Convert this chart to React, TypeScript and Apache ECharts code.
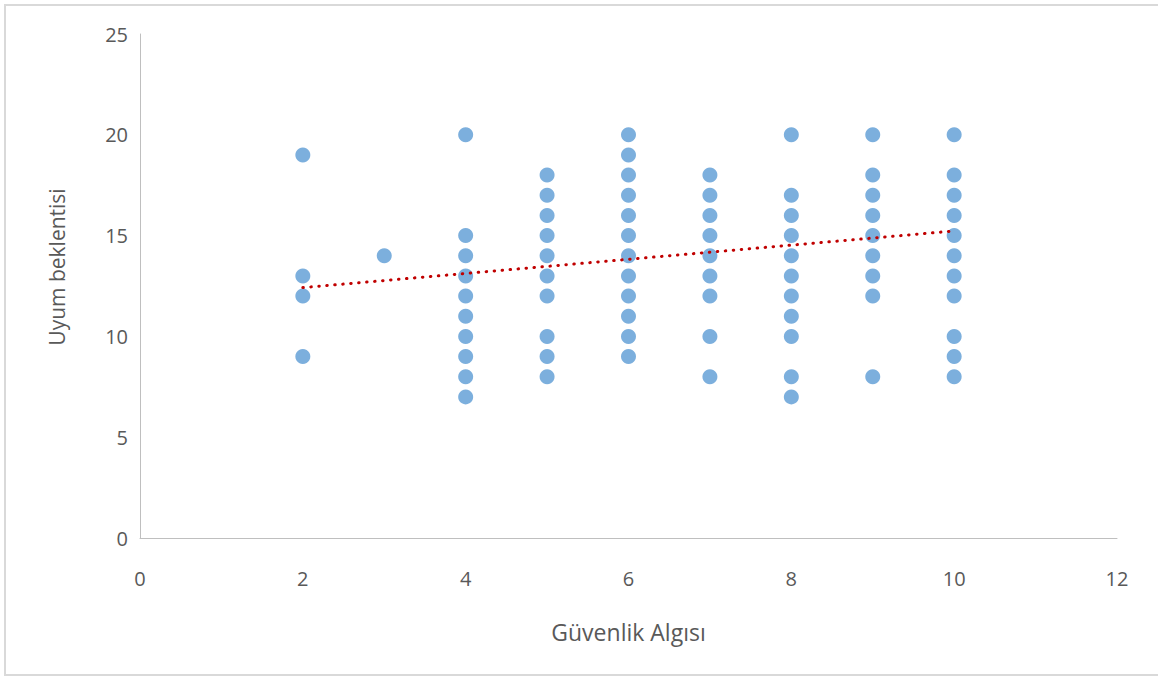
import React, { useEffect, useRef } from "react";
import * as echarts from "echarts";

const xTicks = [0, 2, 4, 6, 8, 10, 12];
const yTicks = [0, 5, 10, 15, 20, 25];

const col2 = [19, 13, 12, 9];
const col3 = [14];
const col4 = [20, 15, 14, 13, 12, 11, 10, 9, 8, 7];
const col5 = [18, 17, 16, 15, 14, 13, 12, 10, 9, 8];
const col6 = [20, 19, 18, 17, 16, 15, 14, 13, 12, 11, 10, 9];
const col7 = [18, 17, 16, 15, 14, 13, 12, 10, 8];
const col8 = [20, 17, 16, 15, 14, 13, 12, 11, 10, 8, 7];
const col9 = [20, 18, 17, 16, 15, 14, 13, 12, 8];
const col10 = [20, 18, 17, 16, 15, 14, 13, 12, 10, 9, 8];

const columns: [number, number[]][] = [
  [2, col2],
  [3, col3],
  [4, col4],
  [5, col5],
  [6, col6],
  [7, col7],
  [8, col8],
  [9, col9],
  [10, col10],
];

const trendX = [2, 10];
const trendY = [12.42, 15.23];

const xName = "Güvenlik Algısı";
const yName = "Uyum beklentisi";

export default function App() {
  const ref = useRef<HTMLDivElement>(null);
  useEffect(() => {
    if (!ref.current) return;
    const chart = echarts.init(ref.current, null, { renderer: "svg" });
    const points: number[][] = [];
    columns.forEach(([x, ys]) => ys.forEach((y) => points.push([x, y])));
    const font = "'Open Sans', 'Noto Sans', sans-serif";
    chart.setOption({
      animation: false,
      backgroundColor: "#ffffff",
      textStyle: { fontFamily: font },
      grid: { left: 140, right: 41, top: 34, bottom: 139 },
      xAxis: {
        type: "value",
        min: xTicks[0],
        max: xTicks[xTicks.length - 1],
        interval: 2,
        axisLine: { show: true, lineStyle: { color: "#bfbfbf", width: 1 } },
        axisTick: { show: false },
        splitLine: { show: false },
        axisLabel: { color: "#595959", fontSize: 20, margin: 30, fontFamily: font },
        name: xName,
        nameLocation: "middle",
        nameGap: 82,
        nameTextStyle: { color: "#595959", fontSize: 23, fontFamily: font },
      },
      yAxis: {
        type: "value",
        min: yTicks[0],
        max: yTicks[yTicks.length - 1],
        interval: 5,
        axisLine: { show: true, lineStyle: { color: "#bfbfbf", width: 1 } },
        axisTick: { show: false },
        splitLine: { show: false },
        axisLabel: { color: "#595959", fontSize: 20, margin: 12, fontFamily: font },
        name: yName,
        nameLocation: "middle",
        nameGap: 73,
        nameRotate: 90,
        nameTextStyle: { color: "#595959", fontSize: 21, fontFamily: font, padding: [0, 0, 0, 38] },
      },
      graphic: [
        {
          type: "rect",
          shape: { x: 5, y: 5, width: 1160, height: 670 },
          style: { fill: "none", stroke: "#d9d9d9", lineWidth: 2 },
          silent: true,
          z: -1,
        },
      ],
      series: [
        {
          type: "scatter",
          data: points,
          symbol: "circle",
          symbolSize: 15,
          itemStyle: { color: "#5b9bd5" },
          z: 2,
        },
        {
          type: "line",
          data: trendX.map((x, i) => [x, trendY[i]]),
          showSymbol: false,
          symbol: "none",
          lineStyle: { color: "#c00000", width: 3, type: [0.5, 7.5], cap: "round" },
          z: 3,
        },
      ],
    });
    return () => chart.dispose();
  }, []);
  return (
    <div
      ref={ref}
      style={{ position: "fixed", left: 0, top: 0, width: 1158, height: 677 }}
    />
  );
}
